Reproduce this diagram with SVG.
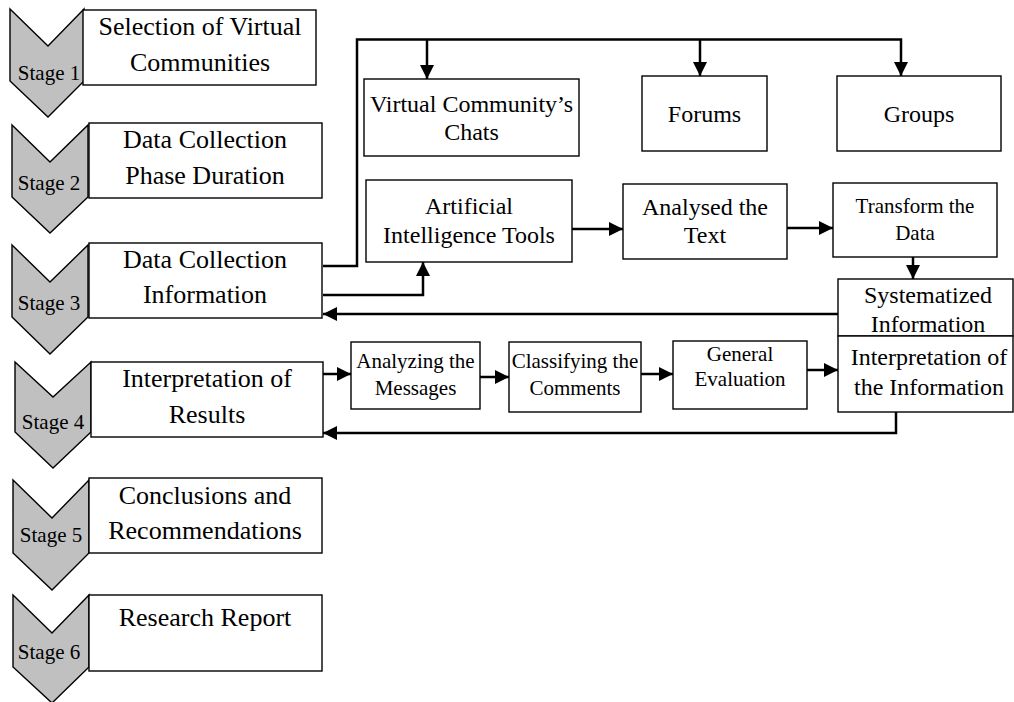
<svg xmlns="http://www.w3.org/2000/svg" width="1014" height="702" viewBox="0 0 1014 702">
<style>
.bg{fill:#ffffff}
.box{fill:#ffffff;stroke:#000000;stroke-width:1.4}
.chev{fill:#c0c0c0;stroke:#000000;stroke-width:1.4;stroke-linejoin:miter}
.t{font-family:"Liberation Serif","Times New Roman",serif;fill:#000000;text-anchor:middle}
.big{font-size:26px}
.mid{font-size:24px}
.sm{font-size:21px}
.stg{font-family:"Liberation Serif","Times New Roman",serif;font-size:21px;fill:#000000;text-anchor:middle}
.c{fill:none;stroke:#000000;stroke-width:2.5;marker-end:url(#ah)}
.cn{fill:none;stroke:#000000;stroke-width:2.5}
</style>
<defs>
<marker id="ah" markerUnits="userSpaceOnUse" markerWidth="15" markerHeight="15" refX="14" refY="7" orient="auto">
<path d="M0,0 L14,7 L0,14 Z" fill="#000000"/>
</marker>
</defs>
<rect class="bg" x="0" y="0" width="1014" height="702"/>

<g id="stage1">
<polygon class="chev" points="10,9 48,46 84,9 84,81 48,117 10,81"/>
<text class="stg" x="49" y="80">Stage 1</text>
<rect class="box" x="83" y="10" width="233" height="75"/>
<text class="t big" x="200" y="35">Selection of Virtual</text>
<text class="t big" x="200" y="71">Communities</text>
</g>
<g id="stage2">
<polygon class="chev" points="12,125 50,162 88,125 88,197 50,233 12,197"/>
<text class="stg" x="49" y="190">Stage 2</text>
<rect class="box" x="89" y="123" width="233" height="75"/>
<text class="t big" x="205" y="148">Data Collection</text>
<text class="t big" x="205" y="184">Phase Duration</text>
</g>
<g id="stage3">
<polygon class="chev" points="12,245 50,282 88,245 88,317 50,354 12,317"/>
<text class="stg" x="49" y="310">Stage 3</text>
<rect class="box" x="89" y="243" width="233" height="75"/>
<text class="t big" x="205" y="268">Data Collection</text>
<text class="t big" x="205" y="303">Information</text>
</g>
<g id="stage4">
<polygon class="chev" points="15,362 53,397 91,362 91,432 53,468 15,432"/>
<text class="stg" x="53" y="429">Stage 4</text>
<rect class="box" x="91" y="362" width="232" height="75"/>
<text class="t big" x="207" y="387">Interpretation of</text>
<text class="t big" x="207" y="423">Results</text>
</g>
<g id="stage5">
<polygon class="chev" points="13,480 52,518 89,480 89,553 52,590 13,553"/>
<text class="stg" x="51" y="542">Stage 5</text>
<rect class="box" x="89" y="478" width="233" height="75"/>
<text class="t big" x="205" y="504">Conclusions and</text>
<text class="t big" x="205" y="539">Recommendations</text>
</g>
<g id="stage6">
<polygon class="chev" points="13,595 52,633 89,595 89,667 52,703 13,667"/>
<text class="stg" x="49" y="659">Stage 6</text>
<rect class="box" x="89" y="595" width="233" height="76"/>
<text class="t big" x="205" y="626">Research Report</text>
</g>

<g id="vcc">
<rect class="box" x="364" y="79" width="215" height="77"/>
<text class="t mid" x="471.5" y="112">Virtual Community’s</text>
<text class="t mid" x="471.5" y="140">Chats</text>
</g>
<g id="forums">
<rect class="box" x="642" y="76" width="125" height="75"/>
<text class="t mid" x="704.5" y="122">Forums</text>
</g>
<g id="groups">
<rect class="box" x="837" y="76" width="164" height="75"/>
<text class="t mid" x="919" y="122">Groups</text>
</g>
<g id="ai">
<rect class="box" x="366" y="180" width="206" height="82"/>
<text class="t mid" x="469" y="214">Artificial</text>
<text class="t mid" x="469" y="243">Intelligence Tools</text>
</g>
<g id="analysed">
<rect class="box" x="623" y="184" width="164" height="75"/>
<text class="t mid" x="705" y="215">Analysed the</text>
<text class="t mid" x="705" y="243">Text</text>
</g>
<g id="transform">
<rect class="box" x="833" y="183" width="164" height="74"/>
<text class="t sm" x="915" y="213">Transform the</text>
<text class="t sm" x="915" y="240">Data</text>
</g>
<g id="systematized">
<rect class="box" x="838" y="279" width="175" height="57"/>
<text class="t mid" x="928" y="303">Systematized</text>
<text class="t mid" x="928" y="332">Information</text>
</g>
<g id="interp">
<rect class="box" x="838" y="336" width="175" height="76"/>
<text class="t mid" x="929" y="365">Interpretation of</text>
<text class="t mid" x="929" y="395">the Information</text>
</g>
<g id="analyzing">
<rect class="box" x="351" y="342" width="129" height="67"/>
<text class="t sm" x="415.5" y="368">Analyzing the</text>
<text class="t sm" x="415.5" y="395">Messages</text>
</g>
<g id="classifying">
<rect class="box" x="509" y="342" width="132" height="70"/>
<text class="t sm" x="575" y="368">Classifying the</text>
<text class="t sm" x="575" y="395">Comments</text>
</g>
<g id="general">
<rect class="box" x="673" y="341" width="134" height="68"/>
<text class="t sm" x="740" y="361">General</text>
<text class="t sm" x="740" y="386">Evaluation</text>
</g>

<g id="connectors">
<path class="c" d="M323,266 H357 V39.5 H901 V76"/>
<path class="c" d="M427,39.5 V79"/>
<path class="c" d="M700,39.5 V76"/>
<path class="c" d="M323,295 H423 V262"/>
<path class="c" d="M572,229 H623"/>
<path class="c" d="M787,228 H833"/>
<path class="c" d="M913,257 V279"/>
<path class="c" d="M838,314 H323"/>
<path class="c" d="M323,374 H351"/>
<path class="c" d="M480,377 H509"/>
<path class="c" d="M641,374 H673"/>
<path class="c" d="M807,370 H838"/>
<path class="c" d="M896,412 V433 H323"/>
</g>
</svg>
